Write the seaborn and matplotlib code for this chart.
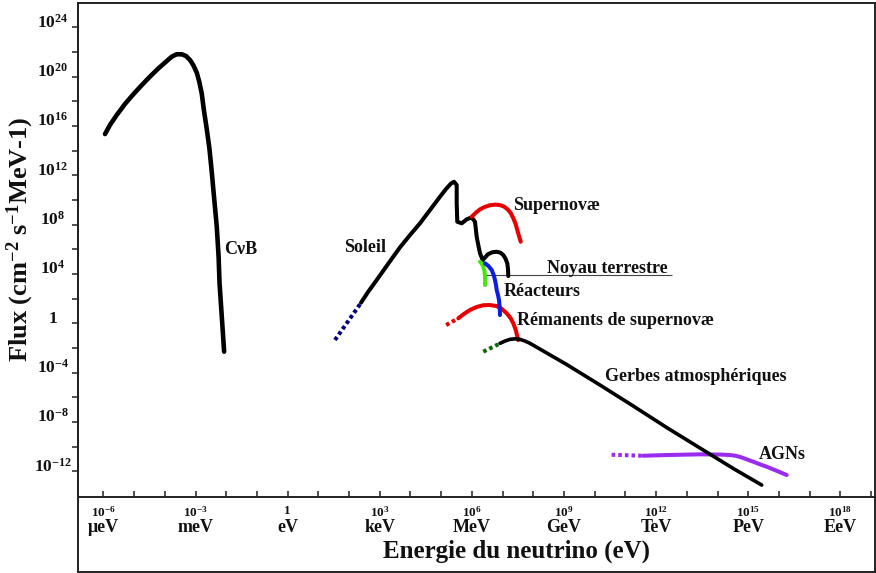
import numpy as np
import pandas as pd
import matplotlib
matplotlib.use("Agg")
import matplotlib.pyplot as plt
from matplotlib.ticker import NullLocator
import seaborn as sns

# All values are base-10 exponents:
#   log10(E / eV) on x, log10(flux / cm^-2 s^-1 MeV^-1) on y

# Cosmic neutrino background
cnub_logE = [-5.95, -5.79, -5.57, -5.30, -5.03, -4.76, -4.49, -4.21, -3.94, -3.78, -3.62,
             -3.45, -3.31, -3.18, -3.07, -2.96, -2.88, -2.80, -2.73, -2.64, -2.55, -2.48,
             -2.40, -2.31, -2.25, -2.22, -2.15, -2.07]
cnub_logF = [15.35, 16.08, 16.89, 17.79, 18.57, 19.30, 20.00, 20.68, 21.27, 21.62, 21.82,
             21.82, 21.68, 21.35, 20.92, 20.32, 19.59, 18.65, 17.30, 15.82, 14.19, 12.45,
             10.27, 7.83, 5.40, 3.27, 0.67, -2.30]

# Sun (dotted low-energy extension + solid spectrum)
sun_ext_logE = [1.54, 2.39]
sun_ext_logF = [-1.35, 1.67]
sun_logE = [2.388, 2.616, 2.899, 3.267, 3.658, 3.984, 4.309, 4.635, 4.961, 5.156, 5.319,
            5.417, 5.505, 5.505, 5.524, 5.668, 5.831, 5.993, 6.101, 6.156, 6.215, 6.264,
            6.352]
sun_logF = [1.671, 2.539, 3.512, 4.809, 6.164, 7.161, 8.110, 9.189, 10.268, 10.892, 11.338,
            11.484, 11.217, 9.732, 8.240, 8.110, 8.435, 8.597, 8.240, 7.024, 6.269, 5.677,
            5.134]

# Earth's core (geoneutrinos)
geo_logE = [6.352, 6.427, 6.524, 6.655, 6.808, 6.932, 7.023, 7.094, 7.153, 7.176, 7.186]
geo_logF = [5.134, 5.337, 5.604, 5.758, 5.807, 5.726, 5.539, 5.255, 4.866, 4.404, 3.836]
geo_leader_logE = [6.43, 12.51]
geo_leader_logF = 3.92

# Supernova burst
sn_logE = [5.993, 6.134, 6.264, 6.427, 6.590, 6.752, 6.915, 7.062, 7.186, 7.274, 7.349,
           7.420, 7.479, 7.534, 7.590]
sn_logF = [8.646, 8.986, 9.246, 9.448, 9.578, 9.627, 9.594, 9.448, 9.189, 8.905, 8.516,
           8.094, 7.567, 7.080, 6.618]

# Green branch next to the reactors
green_logE = [6.264, 6.329, 6.371, 6.410, 6.427, 6.433, 6.427]
green_logF = [4.996, 4.809, 4.590, 4.242, 3.779, 3.431, 3.106]

# Reactors
reac_logE = [6.427, 6.541, 6.645, 6.710, 6.752, 6.785, 6.808, 6.850, 6.883, 6.906, 6.915]
reac_logF = [4.866, 4.647, 4.323, 3.917, 3.512, 3.106, 2.701, 2.295, 1.890, 1.322, 0.673]

# Supernova remnants (relic background)
relic_ext_logE = [5.16, 5.557]
relic_ext_logF = [-0.14, 0.406]
relic_logE = [5.557, 5.743, 5.938, 6.150, 6.371, 6.590, 6.808, 6.980, 7.134, 7.257, 7.349,
              7.430, 7.479, 7.511]
relic_logF = [0.406, 0.770, 1.079, 1.322, 1.468, 1.484, 1.403, 1.160, 0.811, 0.430, 0.000,
              -0.543, -1.087, -1.354]

# Atmospheric showers
atm_ext_logE = [6.37, 6.86]
atm_ext_logF = [-2.30, -1.70]
atm_logE = [6.915, 7.078, 7.241, 7.404, 7.567, 7.730, 7.893, 9.088, 10.173, 11.257, 12.345,
            13.430, 14.515, 15.440]
atm_logF = [-1.622, -1.436, -1.298, -1.257, -1.298, -1.436, -1.622, -3.341, -5.004, -6.707,
            -8.451, -10.114, -11.776, -13.114]

# Active galactic nuclei
agn_ext_logE = [10.55, 11.583]
agn_ext_logF = [-10.66, -10.738]
agn_logE = [11.583, 12.345, 13.430, 14.081, 14.407, 14.603, 14.798, 14.993, 15.166, 15.384,
            15.603, 15.906, 16.254]
agn_logF = [-10.738, -10.681, -10.624, -10.641, -10.681, -10.746, -10.884, -11.071, -11.225,
            -11.436, -11.630, -11.938, -12.303]

# Source labels: text, left edge exponent, vertical centre exponent
source_labels = [
    ("CνB", -2.07, 6.00),
    ("Soleil", 1.83, 6.19),
    ("Supernovæ", 7.34, 9.59),
    ("Réacteurs", 7.05, 2.56),
    ("Rémanents de supernovæ", 7.46, 0.27),
    ("Gerbes atmosphériques", 10.34, -4.33),
    ("AGNs", 15.33, -10.60),
]
geo_label = ("Noyau terrestre", 8.44, 4.10)

# Axis ticks
x_tick_exp = list(range(-6, 20))
x_label_exp = [-6, -3, 0, 3, 6, 9, 12, 15, 18]
x_units = ["μeV", "meV", "eV", "keV", "MeV", "GeV", "TeV", "PeV", "EeV"]
y_tick_exp = list(range(-12, 25, 2))
y_label_exp = [-12, -8, -4, 0, 4, 8, 12, 16, 20, 24]

x_range_exp = (-6.83, 19.13)
y_range_exp = (-14.06, 25.98)

# ---------------------------------------------------------------------------
sns.set_theme(style="white")
plt.rcParams["font.family"] = ["Liberation Serif", "DejaVu Serif"]
plt.rcParams["font.weight"] = "bold"
plt.rcParams["mathtext.fontset"] = "custom"
plt.rcParams["mathtext.rm"] = "Liberation Serif:bold"
plt.rcParams["mathtext.bf"] = "Liberation Serif:bold"
plt.rcParams["mathtext.it"] = "Liberation Serif:bold:italic"
plt.rcParams["mathtext.default"] = "rm"

INK = "#222222"
TXT = "#111111"
W, H = 876, 573
fig = plt.figure(figsize=(W / 100, H / 100), dpi=100)

# outer frame that encloses the plotting area and the axis annotations
frame = fig.add_axes([78 / W, 1 - 571.5 / H, 797 / W, 568.5 / H])
frame.set_xticks([])
frame.set_yticks([])
frame.set_facecolor("white")
for s in frame.spines.values():
    s.set_visible(True)
    s.set_color(INK)
    s.set_linewidth(1.4)

ax = fig.add_axes([78 / W, 1 - 496.7 / H, 797 / W, 493.7 / H])
ax.set_facecolor("none")
ax.set_xscale("log")
ax.set_yscale("log")
for side in ("top", "right"):
    ax.spines[side].set_visible(False)
for side in ("left", "bottom"):
    ax.spines[side].set_color(INK)
    ax.spines[side].set_linewidth(1.4)


def curve(logE, logF, color, lw, dotted=False, z=3):
    df = pd.DataFrame({"E": np.power(10.0, logE), "F": np.power(10.0, logF)})
    sns.lineplot(data=df, x="E", y="F", ax=ax, sort=False, estimator=None,
                 color=color, linewidth=lw, zorder=z)
    ln = ax.lines[-1]
    ln.set_solid_joinstyle("round")
    if dotted:
        ln.set_dashes([0.9, 0.75])
        ln.set_dash_capstyle("butt")


RED = "#e80000"
PURPLE = "#9a2cf0"
curve(cnub_logE, cnub_logF, "black", 3.3)
curve(sun_ext_logE, sun_ext_logF, "#00007a", 2.9, dotted=True)
curve(sun_logE, sun_logF, "black", 2.9)
curve(geo_logE, geo_logF, "black", 2.9)
curve(sn_logE, sn_logF, RED, 2.9, z=4)
curve(green_logE, green_logF, "#44e60c", 2.9, z=4)
curve(reac_logE, reac_logF, "#0a1ee6", 2.9, z=4)
curve(relic_ext_logE, relic_ext_logF, RED, 2.9, dotted=True)
curve(relic_logE, relic_logF, RED, 2.9)
curve(atm_ext_logE, atm_ext_logF, "#0a6a0a", 2.9, dotted=True)
curve(atm_logE, atm_logF, "black", 2.6, z=4)
curve(agn_ext_logE, agn_ext_logF, PURPLE, 2.9, dotted=True)
curve(agn_logE, agn_logF, PURPLE, 2.9)

ax.hlines(10.0 ** geo_leader_logF, 10.0 ** geo_leader_logE[0], 10.0 ** geo_leader_logE[1],
          color="#444444", linewidth=0.8, zorder=2)

lab_kw = dict(fontsize=13, fontweight="bold", color=TXT, ha="left")
for text, lx, ly in source_labels:
    ax.text(10.0 ** lx, 10.0 ** ly, text, va="center", **lab_kw)
ax.text(10.0 ** geo_label[1], 10.0 ** geo_label[2], geo_label[0], va="baseline", **lab_kw)

# axes limits and ticks
ax.set_xlim(10.0 ** x_range_exp[0], 10.0 ** x_range_exp[1])
ax.set_ylim(10.0 ** y_range_exp[0], 10.0 ** y_range_exp[1])


def pow_label(e):
    return "1" if e == 0 else rf"10$^{{{e}}}$"


ax.set_xticks([10.0 ** e for e in x_tick_exp])
ax.set_xticklabels([pow_label(e) if e in x_label_exp else "" for e in x_tick_exp])
ax.set_yticks([10.0 ** e for e in y_tick_exp])
ax.set_yticklabels([pow_label(e) if e in y_label_exp else "" for e in y_tick_exp],
                   ha="center", va="baseline")
ax.xaxis.set_minor_locator(NullLocator())
ax.yaxis.set_minor_locator(NullLocator())
ax.tick_params(axis="x", direction="in", length=4, width=1.1, color=INK,
               labelsize=9.5, pad=6, labelcolor=TXT)
ax.tick_params(axis="y", direction="out", length=4.5, width=1.1, color=INK,
               labelsize=12.5, pad=13.7, labelcolor=TXT)
ax.tick_params(left=True, bottom=True)

unit_y = -(527 - 496.7) / 493.7
for e, u in zip(x_label_exp, x_units):
    ax.text(10.0 ** e, unit_y, u, transform=ax.get_xaxis_transform(),
            ha="center", va="center", fontsize=13, fontweight="bold", color=TXT)

ax.set_xlabel("Energie du neutrino (eV)", fontsize=18, fontweight="bold", color=TXT)
ax.xaxis.set_label_coords((516.5 - 78) / 797, -(551 - 496.7) / 493.7)
ax.xaxis.label.set_va("center")
ax.set_ylabel(r"Flux (cm$^{-2}$ s$^{-1}$MeV-1)", fontsize=19, fontweight="bold", color=TXT)
ax.yaxis.set_label_coords((20 - 78) / 797, (496.7 - 239) / 493.7)
ax.yaxis.label.set_va("center")
ax.yaxis.label.set_ha("center")

fig.savefig("out.png", dpi=100, facecolor="white")
